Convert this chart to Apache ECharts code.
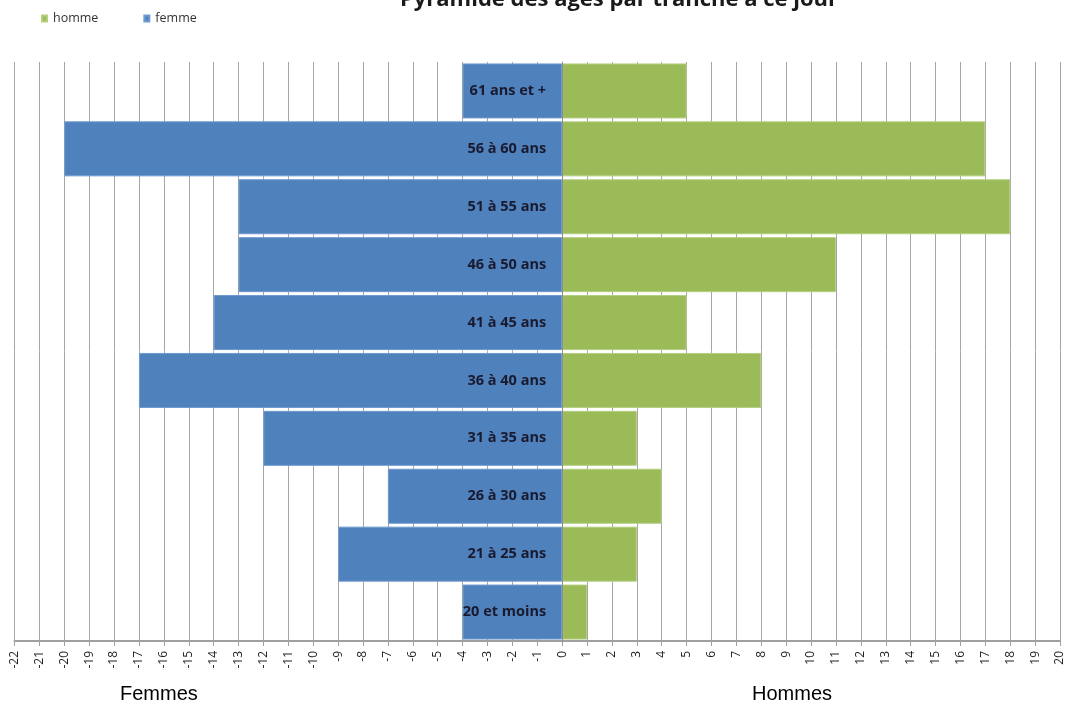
<!DOCTYPE html>
<html><head><meta charset="utf-8">
<script src="https://cdn.jsdelivr.net/npm/echarts@6/dist/echarts.min.js"></script>
<style>html,body{margin:0;padding:0;background:#fff}#c{width:1070px;height:711px}</style>
</head><body><div id="c"></div>
<script>
var categories = ['20 et moins','21 à 25 ans','26 à 30 ans','31 à 35 ans','36 à 40 ans','41 à 45 ans','46 à 50 ans','51 à 55 ans','56 à 60 ans','61 ans et +'];
var femme = [-4,-9,-7,-12,-17,-14,-13,-13,-20,-4];
var homme = [1,3,4,3,8,5,11,18,17,5];
var xMin = -22, xMax = 20;

var gridLeft = 14.5, gridRight = 10;
var plotW = 1070 - gridLeft - gridRight;
var zeroOffset = plotW * (0 - xMin) / (xMax - xMin);

var chart = echarts.init(document.getElementById('c'));
chart.setOption({
  animation:false,
  title:{text:'Pyramide des âges par tranche à ce jour', left:614, top:-16, textAlign:'center',
    textStyle:{fontFamily:'Open Sans', fontWeight:'bold', fontSize:22, color:'#1a1a1a'}},
  legend:{left:36, top:7, itemWidth:5, itemHeight:6, itemGap:45, icon:'rect',
    textStyle:{fontFamily:'Open Sans', fontSize:12.5, color:'#333', padding:[0,0,0,1]},
    data:['homme','femme']},
  grid:{left:gridLeft, right:gridRight, top:62, bottom:70, outerBoundsMode:'none', containLabel:false},
  xAxis:{type:'value', min:xMin, max:xMax, interval:1,
    axisLine:{show:true, onZero:false, lineStyle:{color:'#a0a0a0', width:2}},
    axisTick:{show:true, length:5, lineStyle:{color:'#a0a0a0'}},
    splitLine:{show:true, lineStyle:{color:'#a6a6a6', width:1}},
    axisLabel:{rotate:90, fontFamily:'Open Sans', fontSize:12, color:'#1e1e1e', margin:10}},
  yAxis:{type:'category', data:categories, z:10, position:'left', offset:-zeroOffset,
    axisLine:{show:true, onZero:false, lineStyle:{color:'#8c8c8c', width:1}},
    axisTick:{show:false},
    axisLabel:{fontFamily:'Open Sans', fontWeight:'bold', fontSize:14.5, color:'#1a1a2e', margin:16}},
  series:[
    {name:'homme', type:'bar', stack:'t', data:homme, barCategoryGap:'5%',
      itemStyle:{color:'#9bbb59', borderColor:'#b5cf80', borderWidth:1}},
    {name:'femme', type:'bar', stack:'t', data:femme, barCategoryGap:'5%',
      itemStyle:{color:'#4f81bd', borderColor:'#6f9ad0', borderWidth:1}}
  ],
  graphic:[
    {type:'text', left:120, top:684, style:{text:'Femmes', font:'20px "Liberation Sans"', fill:'#000'}},
    {type:'text', left:752, top:684, style:{text:'Hommes', font:'20px "Liberation Sans"', fill:'#000'}}
  ]
});
</script></body></html>
